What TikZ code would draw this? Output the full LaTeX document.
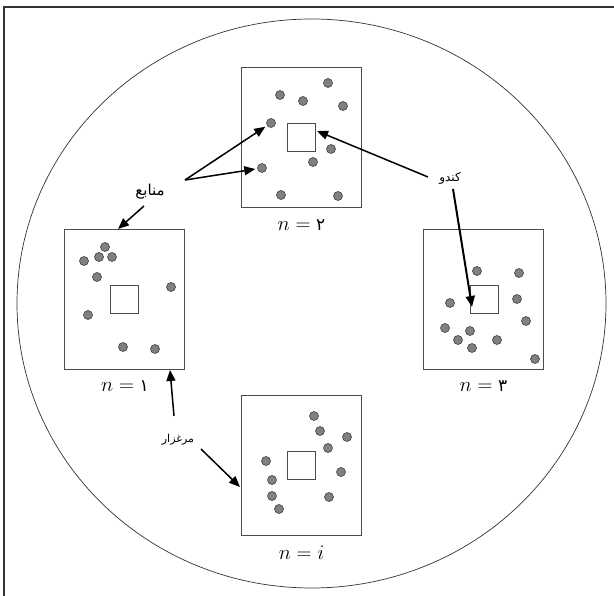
\documentclass[tikz,border=0pt]{standalone}
\usepackage{fontspec}
\usetikzlibrary{arrows.meta}
\newfontfamily\arabicfont[Script=Arabic]{DejaVu Sans}
\TeXXeTstate=1
\begin{document}
\begin{tikzpicture}[x=1pt,y=-1pt,
  field/.style={draw=black!70, line width=0.8pt, rectangle, inner sep=0pt,
                minimum width=120pt, minimum height=140pt},
  hive/.style={draw=black!70, line width=0.8pt, rectangle, inner sep=0pt, minimum size=28pt},
  src/.style={circle, fill=black!50, draw=black!75, line width=0.6pt, inner sep=0pt, minimum size=9pt},
  arr/.style={-{Triangle[length=11pt,width=9pt]}, line width=1.5pt},
  lab/.style={font=\fontsize{21}{24}\selectfont, inner sep=0pt},
  fa/.style={font=\arabicfont\fontsize{#1}{#1}\selectfont, inner sep=1pt}
]
\useasboundingbox (0,0) rectangle (614,596);
\draw[line width=1.4pt, black!80] (4,596) -- (4,7) -- (614,7);
\draw[line width=0.7pt, black!80] (311.5,303.5) ellipse [x radius=294.5, y radius=284.5];

% fields
\node[field] (b2) at (301.5,137) {};
\node[field] (b1) at (124.5,299) {};
\node[field] (b3) at (483.5,299) {};
\node[field] (bi) at (301.5,465) {};
% hives
\node[hive] (h2) at (301.5,137) {};
\node[hive] (h1) at (124,299.5) {};
\node[hive] (h3) at (484,299.5) {};
\node[hive] (hi) at (301,465.5) {};

% sources
\foreach \x/\y [count=\i] in {328/83,280/95,303/101,343/106,271/123,331/149,313/162,262/168,281/195,338/196}
  \node[src] (d2-\i) at (\x,\y) {};
\foreach \x/\y [count=\i] in {105/247,84/261,99/257,112/257,97/277,171/287,88/315,123/347,155/349}
  \node[src] (d1-\i) at (\x,\y) {};
\foreach \x/\y [count=\i] in {477/271,519/273,450/303,517/299,526/321,445/328,470/331,458/340,472/348,497/340,535/359}
  \node[src] (d3-\i) at (\x,\y) {};
\foreach \x/\y [count=\i] in {314/416,320/431,347/437,328/448,266/461,341/472,272/480,272/496,329/497,279/509}
  \node[src] (di-\i) at (\x,\y) {};

% labels
\node[lab] (l2) at (301.5,225) {$n=\mbox{\arabicfont\fontsize{17}{20}\selectfont ۲}$};
\node[lab] (l1) at (125,386) {$n=\mbox{\arabicfont\fontsize{17}{20}\selectfont ۱}$};
\node[lab] (l3) at (483.5,386) {$n=\mbox{\arabicfont\fontsize{17}{20}\selectfont ۳}$};
\node[lab] (li) at (301.5,553) {$n=i$};

\node[fa=15] (manabe) at (150,192) {\beginR منابع\endR};
\node[fa=12] (kandu) at (450,178) {\beginR کندو\endR};
\node[fa=11] (marg) at (178,440) {\beginR مرغزار\endR};

% connector ends
\coordinate (fork) at (185,180);
\coordinate (t1) at (118,229);
\coordinate (k1) at (428,177);
\coordinate (t2) at (317,131);
\coordinate (k2) at (453,189);
\coordinate (t3) at (472,307);
\coordinate (m1) at (174,416);
\coordinate (t4) at (170,370);
\coordinate (m2) at (201,449);
\coordinate (t5) at (240,487);
\coordinate (s1) at (144,206);

\draw[arr, shorten >=2pt] (fork) -- (d2-5);
\draw[arr, shorten >=2pt] (fork) -- (d2-8);
\draw[arr] (s1) -- (t1);
\draw[arr] (k1) -- (t2);
\draw[arr, line width=2pt] (k2) -- (t3);
\draw[arr] (m1) -- (t4);
\draw[arr] (m2) -- (t5);
\end{tikzpicture}
\end{document}
